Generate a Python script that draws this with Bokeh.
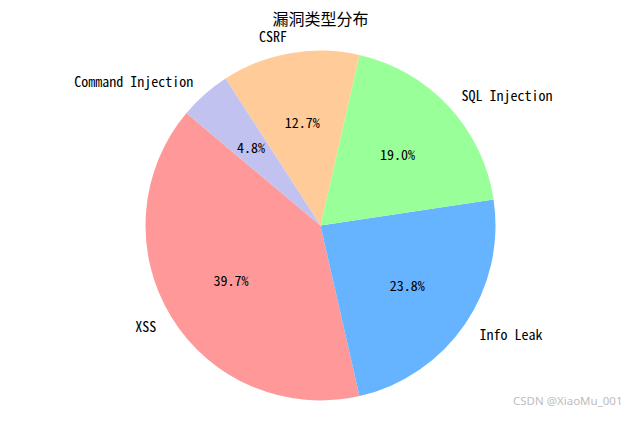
import numpy as np
from bokeh.core.properties import value
from bokeh.embed import file_html
from bokeh.models import ColumnDataSource, Label
from bokeh.plotting import figure
from bokeh.resources import INLINE

# vulnerability counts (pie shares 39.7 / 23.8 / 19.0 / 12.7 / 4.8 %)
labels = ["XSS", "Info Leak", "SQL Injection", "CSRF", "Command Injection"]
counts = [25, 15, 12, 8, 3]
colors = ["#ff9999", "#66b3ff", "#99ff99", "#ffcc99", "#c2c2f0"]
start_deg = 140

mono = value("'Noto Sans Mono CJK SC', 'DejaVu Sans Mono', monospace")

vals = np.array(counts, dtype=float)
frac = vals / vals.sum()
ends = np.deg2rad(start_deg) + 2 * np.pi * np.cumsum(frac)
starts = ends - 2 * np.pi * frac
mids = (starts + ends) / 2

src = ColumnDataSource(dict(
    label=labels,
    color=colors,
    start=starts,
    end=ends,
    pct=["%.1f%%" % (f * 100) for f in frac],
    lx=1.1 * np.cos(mids),
    ly=1.1 * np.sin(mids),
    px=0.6 * np.cos(mids),
    py=0.6 * np.sin(mids),
    align=["left" if c > 0 else "right" for c in np.cos(mids)],
))

scale = 175.0  # px per unit radius
W, H = 624, 411
cx, cy = 320, 225  # pie center in canvas px (from top-left)

p = figure(width=W, height=H, output_backend="svg", toolbar_location=None,
           x_range=(-cx / scale, (W - cx) / scale),
           y_range=(-(H - cy) / scale, cy / scale),
           min_border=0, tools="")
p.axis.visible = False
p.grid.grid_line_color = None
p.outline_line_color = None

p.wedge(x=0, y=0, radius=1, start_angle="start", end_angle="end",
        fill_color="color", line_color=None, source=src)

p.text(x="lx", y="ly", text="label", text_align="align", text_baseline="middle",
       text_font=mono, text_font_size="14px", text_color="black", source=src)
p.text(x="px", y="py", text="pct", text_align="center", text_baseline="middle",
       text_font=mono, text_font_size="14px", text_color="black", source=src)

p.add_layout(Label(x=0, y=(cy - 17) / scale, text="漏洞类型分布", text_align="center",
                   text_baseline="middle", text_font="Noto Sans CJK SC",
                   text_font_size="16px", text_color="black"))

p.add_layout(Label(x=W - 2, y=4, x_units="screen", y_units="screen",
                   text="CSDN @XiaoMu_001", text_align="right", text_baseline="bottom",
                   text_font="Noto Sans", text_font_size="11.5px",
                   text_color="#bdbdbd"))

open("out.html", "w").write(file_html(p, INLINE))
